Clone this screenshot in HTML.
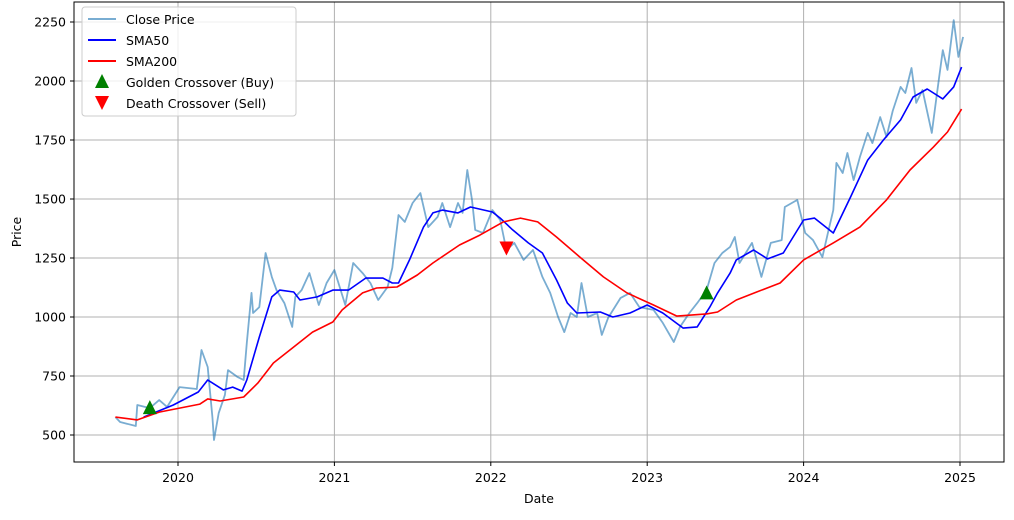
<!DOCTYPE html>
<html><head><meta charset="utf-8"><style>
body{margin:0;background:#fff;}
svg text{font-family:"DejaVu Sans","Liberation Sans",sans-serif;font-size:12.5px;fill:#000;}
</style></head><body>
<svg id="chart" width="1014" height="515">
<g id="grid"></g>
<g id="series"></g>
<rect x="74" y="2" width="930" height="460" fill="none" stroke="#000" stroke-width="1"/>
<g id="axes"></g>
<text x="539" y="503" text-anchor="middle">Date</text>
<text transform="translate(21,232) rotate(-90)" text-anchor="middle">Price</text>
<g>
<rect x="82" y="7" width="214" height="109" rx="3" fill="#fff" fill-opacity="0.8" stroke="#ccc"/>
<line x1="88" y1="19" x2="116" y2="19" stroke="#1f77b4" stroke-opacity="0.6" stroke-width="2"/>
<text x="126" y="24">Close Price</text>
<line x1="88" y1="40" x2="116" y2="40" stroke="#0000ff" stroke-width="2"/>
<text x="126" y="45">SMA50</text>
<line x1="88" y1="61" x2="116" y2="61" stroke="#ff0000" stroke-width="2"/>
<text x="126" y="66">SMA200</text>
<polygon points="102,74 95,88 109,88" fill="green"/>
<text x="126" y="87">Golden Crossover (Buy)</text>
<polygon points="95,96 109,96 102,110" fill="red"/>
<text x="126" y="108">Death Crossover (Sell)</text>
</g>
</svg>
<script>
const closeDates=[2019.60,2019.63,2019.73,2019.74,2019.82,2019.88,2019.93,2020.01,2020.12,2020.15,2020.19,2020.22,2020.23,2020.26,2020.30,2020.32,2020.38,2020.42,2020.44,2020.47,2020.48,2020.52,2020.56,2020.60,2020.63,2020.68,2020.73,2020.75,2020.79,2020.84,2020.90,2020.95,2021.00,2021.07,2021.12,2021.18,2021.23,2021.28,2021.34,2021.37,2021.41,2021.45,2021.50,2021.55,2021.60,2021.66,2021.69,2021.74,2021.79,2021.82,2021.85,2021.88,2021.90,2021.95,2022.01,2022.06,2022.10,2022.15,2022.21,2022.27,2022.33,2022.38,2022.43,2022.47,2022.51,2022.55,2022.58,2022.62,2022.68,2022.71,2022.75,2022.83,2022.89,2022.95,2023.04,2023.10,2023.17,2023.21,2023.27,2023.32,2023.38,2023.43,2023.48,2023.53,2023.56,2023.59,2023.67,2023.73,2023.79,2023.86,2023.88,2023.96,2024.01,2024.06,2024.12,2024.16,2024.19,2024.21,2024.25,2024.28,2024.32,2024.36,2024.41,2024.44,2024.49,2024.53,2024.57,2024.62,2024.65,2024.69,2024.72,2024.76,2024.82,2024.85,2024.89,2024.92,2024.96,2024.99,2025.02];
const closeValues=[576,555,538,627,614,648,619,703,695,860,788,576,479,593,670,775,746,733,890,1102,1017,1042,1271,1170,1114,1059,958,1085,1114,1186,1051,1144,1199,1051,1229,1186,1144,1072,1127,1208,1432,1403,1483,1525,1381,1424,1483,1381,1483,1441,1623,1496,1369,1356,1453,1411,1284,1314,1242,1284,1170,1102,1000,936,1017,1000,1144,1000,1017,924,996,1081,1102,1042,1030,975,894,958,1017,1059,1114,1229,1271,1297,1339,1229,1314,1170,1314,1326,1466,1496,1356,1326,1254,1369,1453,1653,1610,1695,1580,1678,1780,1737,1847,1763,1873,1975,1949,2055,1907,1962,1780,1932,2131,2047,2258,2102,2187];
const sma50Dates=[2019.78,2019.97,2020.13,2020.19,2020.29,2020.35,2020.41,2020.44,2020.52,2020.60,2020.65,2020.74,2020.78,2020.89,2020.99,2021.09,2021.20,2021.31,2021.37,2021.41,2021.48,2021.57,2021.63,2021.69,2021.79,2021.87,2022.01,2022.06,2022.14,2022.24,2022.33,2022.42,2022.49,2022.55,2022.70,2022.78,2022.89,2023.00,2023.10,2023.23,2023.32,2023.40,2023.45,2023.53,2023.57,2023.68,2023.77,2023.87,2024.00,2024.07,2024.19,2024.30,2024.41,2024.51,2024.62,2024.70,2024.79,2024.89,2024.96,2025.01];
const sma50Values=[576,627,682,733,691,703,686,733,915,1085,1114,1106,1072,1085,1114,1114,1165,1165,1144,1144,1242,1381,1441,1453,1441,1466,1445,1419,1369,1314,1271,1157,1059,1017,1021,1000,1017,1051,1017,953,958,1042,1102,1186,1242,1284,1246,1271,1411,1419,1356,1508,1665,1750,1835,1932,1966,1924,1975,2059];
const sma200Dates=[2019.60,2019.74,2019.88,2020.14,2020.19,2020.27,2020.42,2020.51,2020.61,2020.74,2020.86,2020.99,2021.05,2021.18,2021.27,2021.40,2021.53,2021.63,2021.80,2021.93,2022.08,2022.19,2022.30,2022.42,2022.57,2022.72,2022.87,2023.04,2023.19,2023.38,2023.45,2023.57,2023.70,2023.85,2024.00,2024.19,2024.36,2024.53,2024.68,2024.83,2024.92,2025.01];
const sma200Values=[576,564,597,631,653,644,661,720,805,873,936,979,1030,1102,1123,1127,1178,1229,1305,1347,1403,1419,1403,1339,1254,1170,1102,1051,1004,1013,1021,1072,1106,1144,1242,1314,1381,1496,1623,1720,1784,1881];
const buyDates=[2019.82,2023.38];
const buyValues=[614,1100];
const sellDates=[2022.10];
const sellValues=[1290];
const yTicks=[500,750,1000,1250,1500,1750,2000,2250];
const xTicks=[2020,2021,2022,2023,2024,2025];

const NS="http://www.w3.org/2000/svg";
function X(t){return 178+(t-2020)*156.4;}
function Y(v){return 435-(v-500)*0.236;}
function mk(tag,attrs,parent){const e=document.createElementNS(NS,tag);for(const k in attrs)e.setAttribute(k,attrs[k]);parent.appendChild(e);return e;}
const grid=document.getElementById('grid'),axes=document.getElementById('axes'),ser=document.getElementById('series');
yTicks.forEach(v=>{
  const l=mk('line',{x1:74,x2:1004,y1:Y(v),y2:Y(v),stroke:'#b0b0b0','stroke-width':1},grid);
  
  
  mk('line',{x1:70,x2:74,y1:Y(v),y2:Y(v),stroke:'#000'},axes);
  const t=mk('text',{x:66,y:Y(v)+4.5,'text-anchor':'end'},axes);t.textContent=v;
  
  
});
xTicks.forEach(v=>{
  const l=mk('line',{x1:X(v),x2:X(v),y1:2,y2:462,stroke:'#b0b0b0','stroke-width':1},grid);
  
  
  mk('line',{x1:X(v),x2:X(v),y1:462,y2:466,stroke:'#000'},axes);
  const t=mk('text',{x:X(v),y:482,'text-anchor':'middle'},axes);t.textContent=v;
  
  
});
function pts(d,v){return d.map((t,i)=>X(t).toFixed(1)+','+Y(v[i]).toFixed(1)).join(' ');}
const c=mk('polyline',{points:pts(closeDates,closeValues),fill:'none',stroke:'#1f77b4','stroke-opacity':0.6,'stroke-width':1.8,'stroke-linejoin':'round'},ser);


const s5=mk('polyline',{points:pts(sma50Dates,sma50Values),fill:'none',stroke:'#0000ff','stroke-width':1.6,'stroke-linejoin':'round'},ser);


const s2=mk('polyline',{points:pts(sma200Dates,sma200Values),fill:'none',stroke:'#ff0000','stroke-width':1.6,'stroke-linejoin':'round'},ser);


buyDates.forEach((t,i)=>{const x=X(t),y=Y(buyValues[i]);
  const p=mk('polygon',{points:`${x},${y-8} ${x-7},${y+6} ${x+7},${y+6}`,fill:'green'},ser);
  
  });
sellDates.forEach((t,i)=>{const x=X(t),y=Y(sellValues[i]);
  const p=mk('polygon',{points:`${x-7},${y-7} ${x+7},${y-7} ${x},${y+7}`,fill:'red'},ser);
  
  });
</script>
</body></html>
